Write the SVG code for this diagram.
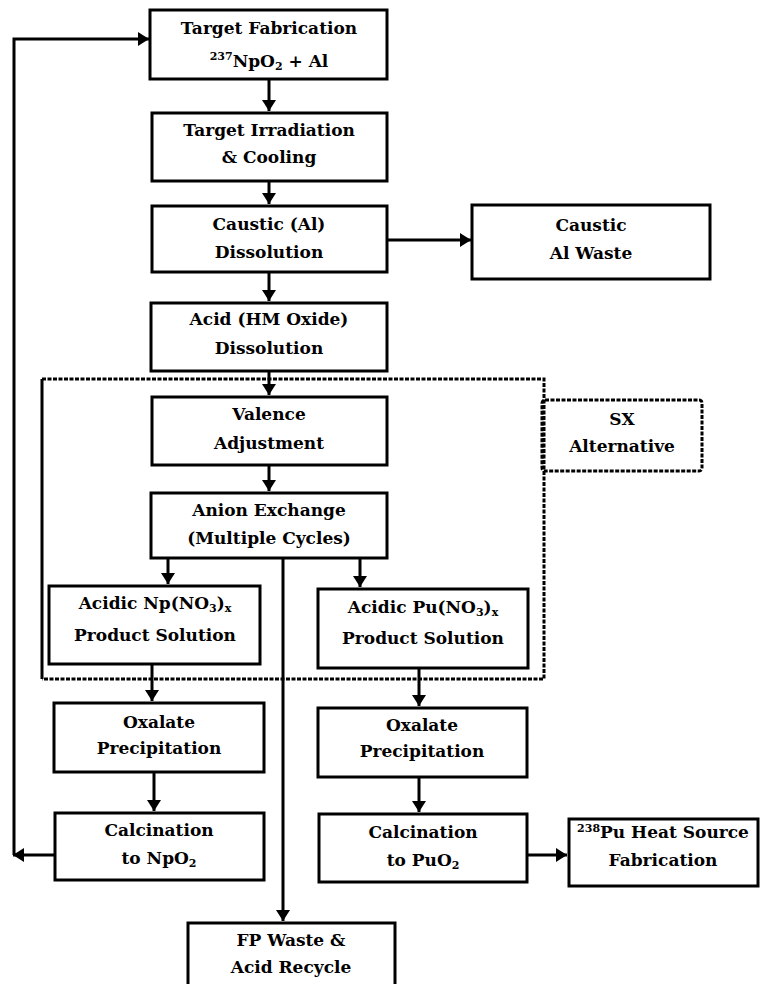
<svg xmlns="http://www.w3.org/2000/svg" width="764" height="984" viewBox="0 0 764 984">
<style>
.box{fill:#fff;stroke:#000;stroke-width:3}
.t{font-family:"DejaVu Serif","Liberation Serif",serif;font-weight:bold;font-size:17px;text-anchor:middle;fill:#000}
.ln{fill:none;stroke:#000;stroke-width:3}
.dot{fill:none;stroke:#000;stroke-width:3;stroke-dasharray:4 1.5}
.sub{font-size:11px}
</style>
<defs>
<marker id="ah" markerUnits="userSpaceOnUse" markerWidth="16" markerHeight="16" viewBox="0 0 16 16" refX="12" refY="8" orient="auto">
<path d="M1,1 L12,8 L1,15 Z" fill="#000"/>
</marker>
</defs>
<rect width="764" height="984" fill="#fff"/>
<g id="connectors">
<path class="ln" d="M269,80 V111" marker-end="url(#ah)"/>
<path class="ln" d="M269,182 V204" marker-end="url(#ah)"/>
<path class="ln" d="M387,240 H471" marker-end="url(#ah)"/>
<path class="ln" d="M269,272 V301" marker-end="url(#ah)"/>
<path class="ln" d="M269,371 V395" marker-end="url(#ah)"/>
<path class="ln" d="M269,465 V491" marker-end="url(#ah)"/>
<path class="ln" d="M168,558 V584" marker-end="url(#ah)"/>
<path class="ln" d="M360,558 V587" marker-end="url(#ah)"/>
<path class="ln" d="M283,558 V921" marker-end="url(#ah)"/>
<path class="ln" d="M152,665 V701" marker-end="url(#ah)"/>
<path class="ln" d="M154,772 V811" marker-end="url(#ah)"/>
<path class="ln" d="M419,669 V706" marker-end="url(#ah)"/>
<path class="ln" d="M419,777 V812" marker-end="url(#ah)"/>
<path class="ln" d="M527,855 H567" marker-end="url(#ah)"/>
<path class="ln" d="M55,855 H13" marker-end="url(#ah)"/>
<path class="ln" d="M14,855 V39 H149" marker-end="url(#ah)"/>
</g>
<g id="sx-boundary">
<path class="ln" d="M42,379 V679"/>
<path class="dot" d="M42,379 H544 V679 H42"/>
</g>
<g id="target-fabrication">
<rect class="box" x="150" y="10" width="237" height="69"/>
<text class="t" x="269" y="34">Target Fabrication</text>
<text class="t" x="269" y="67"><tspan class="sub" dy="-7">237</tspan><tspan dy="7">NpO</tspan><tspan class="sub" dy="3">2</tspan><tspan dy="-3"> + Al</tspan></text>
</g>
<g id="target-irradiation">
<rect class="box" x="152" y="113" width="235" height="68"/>
<text class="t" x="269" y="136">Target Irradiation</text>
<text class="t" x="269" y="163">&amp; Cooling</text>
</g>
<g id="caustic-dissolution">
<rect class="box" x="152" y="206" width="235" height="66"/>
<text class="t" x="269" y="230">Caustic (Al)</text>
<text class="t" x="269" y="258">Dissolution</text>
</g>
<g id="caustic-waste">
<rect class="box" x="472" y="205" width="238" height="74"/>
<text class="t" x="591" y="231">Caustic</text>
<text class="t" x="591" y="259">Al Waste</text>
</g>
<g id="acid-dissolution">
<rect class="box" x="151" y="303" width="236" height="68"/>
<text class="t" x="269" y="325">Acid (HM Oxide)</text>
<text class="t" x="269" y="354">Dissolution</text>
</g>
<g id="valence-adjustment">
<rect class="box" x="152" y="397" width="235" height="68"/>
<text class="t" x="269" y="420">Valence</text>
<text class="t" x="269" y="449">Adjustment</text>
</g>
<g id="anion-exchange">
<rect class="box" x="151" y="493" width="236" height="65"/>
<text class="t" x="269" y="516">Anion Exchange</text>
<text class="t" x="269" y="544">(Multiple Cycles)</text>
</g>
<g id="sx-alternative">
<rect class="dot" x="542" y="400" width="160" height="71" rx="3"/>
<text class="t" x="622" y="425">SX</text>
<text class="t" x="622" y="452">Alternative</text>
</g>
<g id="np-product">
<rect class="box" x="49" y="586" width="211" height="78"/>
<text class="t" x="155" y="609">Acidic Np(NO<tspan class="sub" dy="3">3</tspan><tspan dy="-3">)</tspan><tspan class="sub" dy="3">x</tspan></text>
<text class="t" x="155" y="641">Product Solution</text>
</g>
<g id="pu-product">
<rect class="box" x="318" y="589" width="210" height="79"/>
<text class="t" x="423" y="613">Acidic Pu(NO<tspan class="sub" dy="3">3</tspan><tspan dy="-3">)</tspan><tspan class="sub" dy="3">x</tspan></text>
<text class="t" x="423" y="644">Product Solution</text>
</g>
<g id="np-oxalate">
<rect class="box" x="54" y="703" width="210" height="69"/>
<text class="t" x="159" y="728">Oxalate</text>
<text class="t" x="159" y="754">Precipitation</text>
</g>
<g id="np-calcination">
<rect class="box" x="55" y="813" width="209" height="67"/>
<text class="t" x="159" y="836">Calcination</text>
<text class="t" x="159" y="864">to NpO<tspan class="sub" dy="3">2</tspan></text>
</g>
<g id="pu-oxalate">
<rect class="box" x="318" y="708" width="209" height="69"/>
<text class="t" x="422" y="731">Oxalate</text>
<text class="t" x="422" y="757">Precipitation</text>
</g>
<g id="pu-calcination">
<rect class="box" x="319" y="814" width="208" height="68"/>
<text class="t" x="423" y="838">Calcination</text>
<text class="t" x="423" y="866">to PuO<tspan class="sub" dy="3">2</tspan></text>
</g>
<g id="heat-source">
<rect class="box" x="569" y="819" width="189" height="67"/>
<text class="t" x="663" y="838"><tspan class="sub" dy="-6">238</tspan><tspan dy="6">Pu Heat Source</tspan></text>
<text class="t" x="663" y="866">Fabrication</text>
</g>
<g id="fp-waste">
<rect class="box" x="188" y="923" width="207" height="70"/>
<text class="t" x="291" y="946">FP Waste &amp;</text>
<text class="t" x="291" y="973">Acid Recycle</text>
</g>
</svg>
